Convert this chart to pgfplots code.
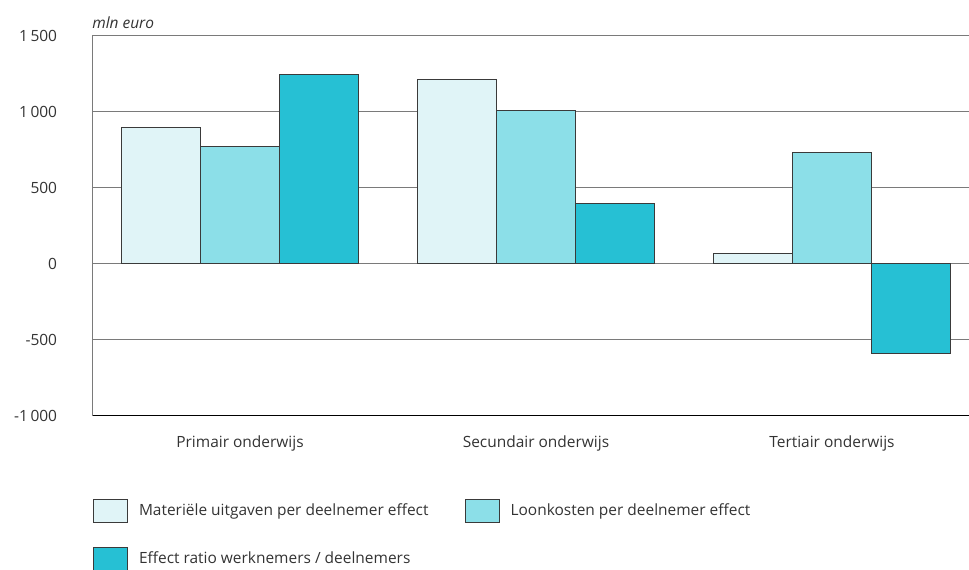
\documentclass[border=0pt]{standalone}
\usepackage{pgfplots}
\pgfplotsset{compat=1.18}
\usepackage{fontspec}
\setmainfont{Open Sans}

\definecolor{txt}{HTML}{333333}
\definecolor{gridc}{HTML}{7A7A7A}
\definecolor{edge}{HTML}{3A3A3A}
\definecolor{cLight}{HTML}{E0F4F7}
\definecolor{cMid}{HTML}{8CDFE8}
\definecolor{cDark}{HTML}{26C0D4}

% 1 px of the reference = 0.75pt
\begin{document}
\begin{tikzpicture}[font=\fontsize{11.6}{13.5}\selectfont, text=txt]
\useasboundingbox (0,0) rectangle (726.75pt,427.5pt);
\begin{axis}[
    at={(69pt,115.5pt)}, anchor=south west,
    scale only axis,
    width=657.75pt, height=285pt,
    ybar=0pt,
    bar width=0.2669,
    xmin=-0.5, xmax=2.463,
    ymin=-1000, ymax=1500,
    xtick={0,1,2},
    xticklabels={Primair onderwijs, Secundair onderwijs, Tertiair onderwijs},
    ytick={-1000,-500,0,500,1000,1500},
    yticklabels={-1\,000,-500,0,500,1\,000,1\,500},
    major tick length=0pt,
    axis x line=bottom, axis y line=left,
    axis line style={-},
    x axis line style={black, line width=0.75pt},
    y axis line style={gridc, line width=0.75pt},
    ymajorgrids,
    grid style={gridc, line width=0.75pt},
    yticklabel style={anchor=east, inner sep=0pt, xshift=-26pt, text=txt},
    xticklabel style={anchor=center, inner sep=0pt, yshift=-20.25pt, text=txt},
    ylabel={mln euro},
    ylabel style={rotate=-90, at={(axis description cs:0,1)}, anchor=west,
        inner sep=0pt, yshift=9.75pt, font=\fontsize{11.6}{13.5}\selectfont\itshape, text=txt},
    legend columns=2,
    legend cell align=left,
    legend style={at={(axis description cs:0,0)}, anchor=north west,
        xshift=0.75pt, yshift=-62.25pt, draw=none, fill=none,
        inner sep=0pt, outer sep=0pt, row sep=18pt,
        nodes={inner sep=0pt, text=txt},
        /tikz/every odd column/.append style={column sep=8.25pt},
        /tikz/every even column/.append style={column sep=27pt}},
    legend image code/.code={\draw[#1, line width=0.75pt] (0,-8.6pt) rectangle (25.5pt,8.6pt);},
    every axis plot/.append style={draw=edge, line width=0.75pt},
]
\addplot[fill=cLight] coordinates {(0,900) (1,1212) (2,70)};
\addplot[fill=cMid] coordinates {(0,772) (1,1009) (2,735)};
\addplot[fill=cDark] coordinates {(0,1245) (1,397) (2,-588)};
\legend{Materiële uitgaven per deelnemer effect, Loonkosten per deelnemer effect, Effect ratio werknemers / deelnemers}
\end{axis}
\end{tikzpicture}
\end{document}
